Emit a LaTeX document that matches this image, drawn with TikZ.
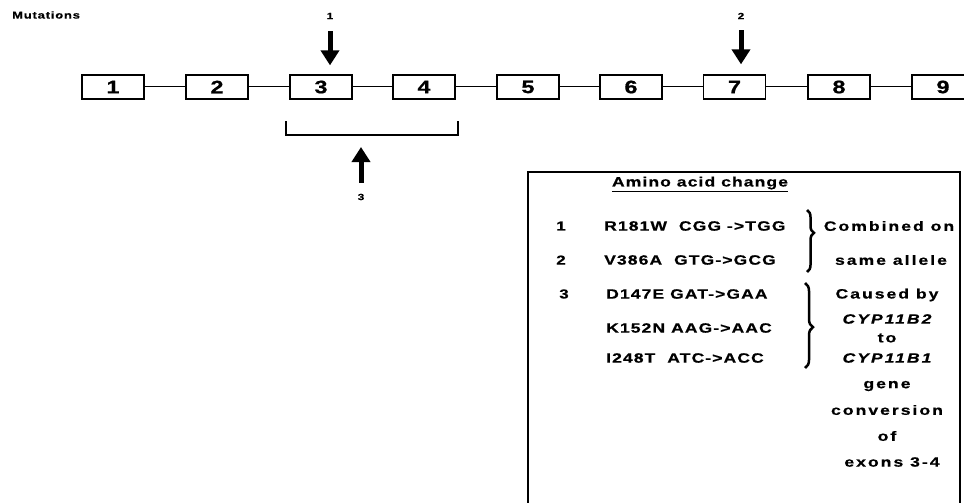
\documentclass[tikz,border=0pt]{standalone}
\usepackage{fontspec}
\setmainfont{Liberation Sans}
\newfontfamily\wf{Liberation Sans}[FakeStretch=1.3, LetterSpace=8, FakeBold=0.6]
\newfontfamily\wfn{Liberation Sans}[FakeStretch=1.3, LetterSpace=15, FakeBold=0.6]
\newfontfamily\wdg{Liberation Sans}[FakeStretch=1.3, FakeBold=0.8]
\usetikzlibrary{arrows.meta,decorations.pathreplacing}
\tikzset{
  exon/.style={draw, line width=1.3pt, minimum width=62pt, minimum height=24pt, inner sep=0pt,
    font=\wdg\bfseries\fontsize{18}{18}\selectfont},
  intron/.style={line width=1pt},
  bigarrow/.style={line width=5pt, -{Triangle[width=18pt,length=15pt]}},
  arrlab/.style={font=\wf\bfseries\fontsize{9}{9}\selectfont, inner sep=1pt},
  rowtxt/.style={anchor=west, inner sep=0pt, font=\wf\bfseries\fontsize{13.5}{14}\selectfont},
  rownum/.style={inner sep=0pt, font=\wf\bfseries\fontsize{13}{14}\selectfont},
  note/.style={inner sep=0pt, font=\wfn\bfseries\fontsize{13.5}{14}\selectfont},
  notei/.style={inner sep=0pt, font=\wfn\bfseries\itshape\fontsize{13.5}{14}\selectfont},
  bracefig/.style={line width=2.5pt, decorate},
}
\begin{document}
\begin{tikzpicture}[x=1pt,y=-1pt]
\useasboundingbox (0,0) rectangle (964,503);
\clip (0,0) rectangle (964,503);
\fill[white] (0,0) rectangle (964,503);

\node[anchor=west, inner sep=0pt, font=\wf\bfseries\fontsize{10}{10}\selectfont] (mut) at (12,15) {Mutations};

% exons
\node[exon] (e1) at (113,87) {1};
\node[exon] (e2) at (217,87) {2};
\node[exon] (e3) at (321,87) {3};
\node[exon] (e4) at (424,87) {4};
\node[exon] (e5) at (528,87) {5};
\node[exon] (e6) at (631,87) {6};
\node[exon] (e7) at (734.5,87) {7};
\node[exon] (e8) at (839,87) {8};
\node[exon] (e9) at (943,87) {9};
\foreach \a/\b in {e1/e2,e2/e3,e3/e4,e4/e5,e5/e6,e6/e7,e7/e8,e8/e9}
  \draw[intron] (\a) -- (\b);

% mutation arrows
\node[arrlab] (l1) at (330,16) {1};
\node[arrlab] (l2) at (741,16) {2};
\draw[bigarrow, shorten <=11pt, shorten >=9pt] (l1.south) -- (l1.south |- e3.north);
\draw[bigarrow, shorten <=10pt, shorten >=10pt] (l2.south) -- (l2.south |- e7.north);

% bracket over exons 3-4
\coordinate (b1) at (286,121);
\coordinate (b2) at (286,135);
\coordinate (b3) at (458,135);
\coordinate (b4) at (458,121);
\draw[line width=1.2pt] (b1) -- (b2) -- (b3) -- (b4);
\node[arrlab] (l3) at (361,197) {3};
\coordinate (a3t) at (361,147);
\draw[bigarrow, shorten <=10pt] (l3.north) -- (a3t);

% info box
\draw[line width=1.3pt] (528,520) -- (528,172) -- (960,172) -- (960,520);
\node[inner sep=0pt, font=\wf\bfseries\fontsize{13.5}{14}\selectfont] (title) at (700,184) {\underline{Amino acid change}};

\node[rownum] (n1) at (561,226) {1};
\node[rownum] (n2) at (561,260) {2};
\node[rownum] (n3) at (564,294) {3};
\node[rowtxt] (r1) at (604,226) {R181W\ \ CGG ->TGG};
\node[rowtxt] (r2) at (604,260) {V386A\ \ GTG->GCG};
\node[rowtxt] (r3) at (606,294) {D147E GAT->GAA};
\node[rowtxt] (r4) at (606,328) {K152N AAG->AAC};
\node[rowtxt] (r5) at (606,358) {I248T\ \ ATC->ACC};

% braces
\coordinate (br1a) at (807,210);
\coordinate (br1b) at (807,272);
\coordinate (br2a) at (805,283);
\coordinate (br2b) at (805,368);
\draw[bracefig, decoration={brace, amplitude=7pt, aspect=0.37}] (br1a) -- (br1b);
\draw[bracefig, decoration={brace, amplitude=8pt, aspect=0.52}] (br2a) -- (br2b);

% notes
\node[note] (c1) at (889,226) {Combined on};
\node[note] (c2) at (891,260) {same allele};
\node[note] (c3) at (887,295) {Caused by};
\node[notei] (c4) at (887,319) {CYP11B2};
\node[note] (c5) at (887,338) {to};
\node[notei] (c6) at (887,358) {CYP11B1};
\node[note] (c7) at (887,386) {gene};
\node[note] (c8) at (887,410) {conversion};
\node[note] (c9) at (887,436) {of};
\node[note] (c10) at (892,462) {exons 3-4};
\end{tikzpicture}
\end{document}
